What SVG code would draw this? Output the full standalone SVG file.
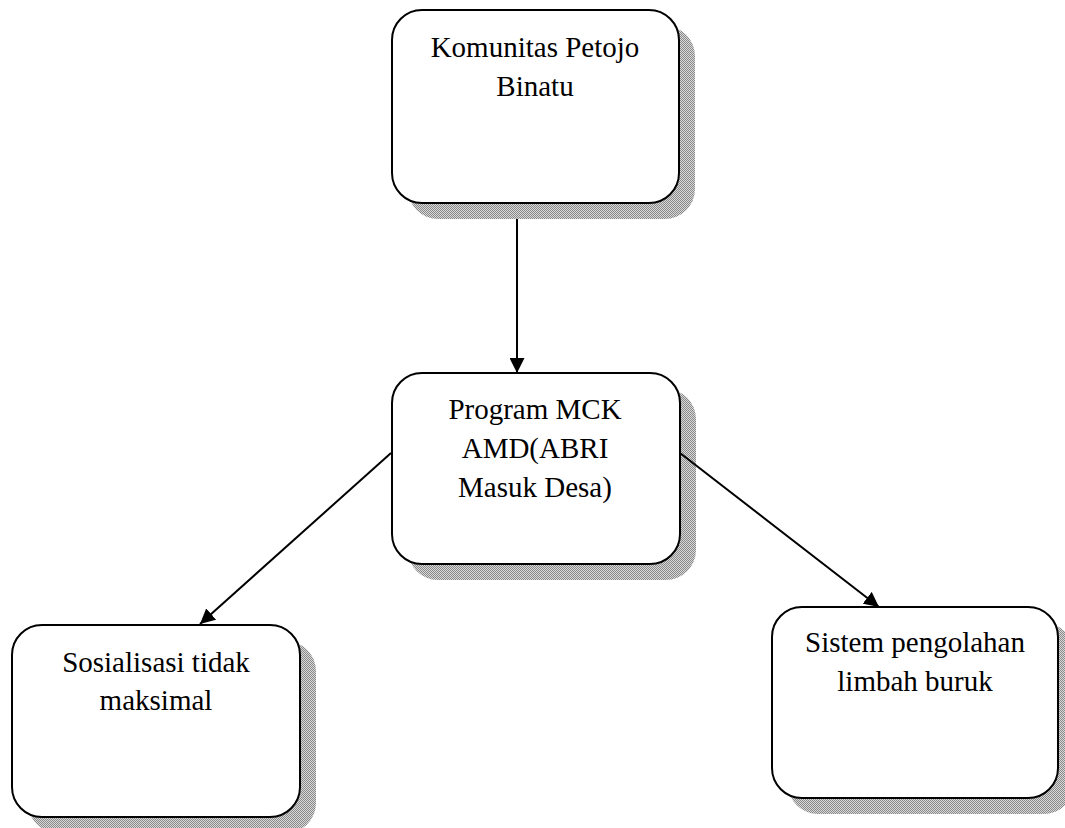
<svg xmlns="http://www.w3.org/2000/svg" width="1065" height="828" viewBox="0 0 1065 828">
<style>
.box{fill:#fff;stroke:#000;stroke-width:2}
.sh{fill:url(#dots);stroke:none}
.t{font-family:"Liberation Serif","Times New Roman",serif;font-size:29px;fill:#000;text-anchor:middle}
.c{stroke:#000;stroke-width:2;fill:none}
</style>
<defs>
<pattern id="dots" width="2" height="2" patternUnits="userSpaceOnUse">
<rect width="2" height="2" fill="#d8d8d8"/>
<rect width="1" height="1" fill="#8a8a8a"/>
<rect x="1" y="1" width="1" height="1" fill="#8a8a8a"/>
</pattern>
<marker id="ah" markerWidth="15" markerHeight="15" viewBox="0 0 15 15" refX="15" refY="7.5" orient="auto" markerUnits="userSpaceOnUse">
<path d="M0,0 L15,7.5 L0,15 Z" fill="#000"/>
</marker>
</defs>
<rect width="1065" height="828" fill="#fff"/>
<g id="node-komunitas">
<rect class="sh" x="408" y="26" width="287" height="193" rx="30"/>
<rect class="box" x="392" y="10" width="287" height="193" rx="30"/>
<text class="t" x="535" y="57">Komunitas Petojo</text>
<text class="t" x="535" y="96">Binatu</text>
</g>
<g id="node-program">
<rect class="sh" x="408" y="389" width="288" height="191" rx="30"/>
<rect class="box" x="392" y="373" width="288" height="191" rx="30"/>
<text class="t" x="535" y="419">Program MCK</text>
<text class="t" x="535" y="458">AMD(ABRI</text>
<text class="t" x="535" y="497">Masuk Desa)</text>
</g>
<g id="node-sosialisasi">
<rect class="sh" x="28" y="641" width="288" height="192" rx="30"/>
<rect class="box" x="12" y="625" width="288" height="192" rx="30"/>
<text class="t" x="156" y="672">Sosialisasi tidak</text>
<text class="t" x="156" y="710">maksimal</text>
</g>
<g id="node-sistem">
<rect class="sh" x="788" y="623" width="286" height="191" rx="30"/>
<rect class="box" x="772" y="607" width="286" height="191" rx="30"/>
<text class="t" x="915" y="652">Sistem pengolahan</text>
<text class="t" x="915" y="691">limbah buruk</text>
</g>
<g id="connectors">
<line class="c" x1="517" y1="219" x2="517" y2="373" stroke-width="2.5" marker-end="url(#ah)"/>
<line class="c" x1="391" y1="453" x2="200" y2="624" marker-end="url(#ah)"/>
<line class="c" x1="680" y1="453" x2="879" y2="607" marker-end="url(#ah)"/>
</g>
</svg>
